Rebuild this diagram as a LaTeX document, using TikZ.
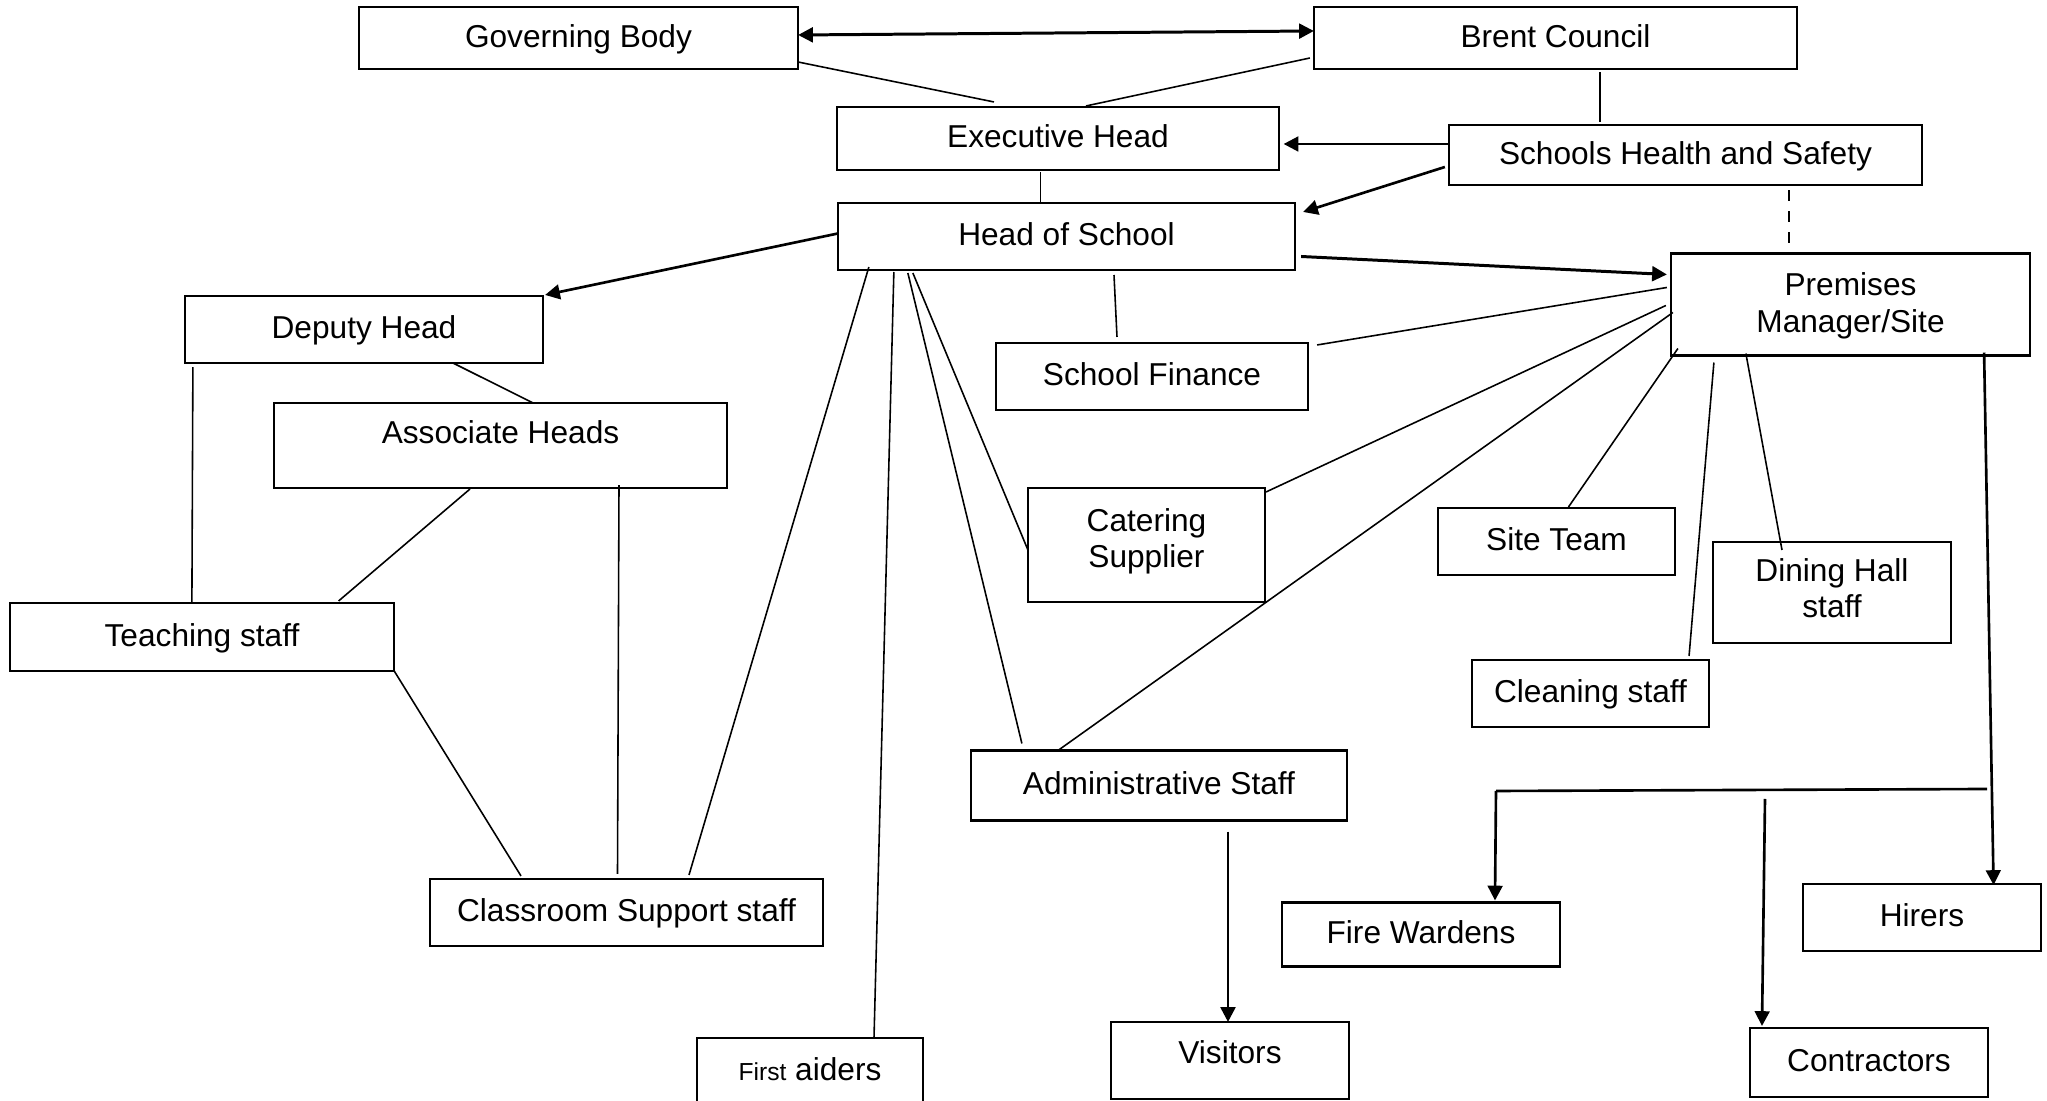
\documentclass[tikz,border=0pt]{standalone}
\usepackage{fontspec}
\setmainfont{Liberation Sans}
\usetikzlibrary{arrows.meta}

\begin{document}
\begin{tikzpicture}[x=0.01cm,y=-0.01cm,
  box/.style={draw,line width=0.6pt,inner sep=0pt,outer sep=0pt,align=center,text depth=0.04cm,
    font=\fontsize{9}{10.4}\selectfont},
  link/.style={line width=0.45pt},
  arrowlink/.style={line width=0.75pt,-{Triangle[length=4.2pt,width=4.2pt]}}]
  \useasboundingbox (0,0) rectangle (2047,1101);

  % Governance
  \node[box,minimum width=4.39cm,minimum height=0.62cm] (gov) at (578.5,38) {Governing Body};
  \node[box,minimum width=4.83cm,minimum height=0.62cm] (brent) at (1555.5,38) {Brent Council};
  \node[box,minimum width=4.41cm,minimum height=0.63cm] (exec) at (1058,138.5) {Executive Head};
  \node[box,minimum width=4.73cm,minimum height=0.60cm] (shs) at (1685.5,155) {Schools Health and Safety};
  \node[box,minimum width=4.57cm,minimum height=0.67cm] (hos) at (1066.5,236.5) {Head of School};
  \node[box,minimum width=3.59cm,minimum height=1.02cm] (prem) at (1850.5,304.5) {Premises\\Manager/Site};

  % Teaching side
  \node[box,minimum width=3.58cm,minimum height=0.67cm] (dep) at (364,329.5) {Deputy Head};
  \node[box,minimum width=4.53cm,minimum height=0.85cm,text depth=0.26cm] (assoc) at (500.5,445.5) {Associate Heads};
  \node[box,minimum width=3.83cm,minimum height=0.68cm] (teach) at (202,637) {Teaching staff};
  \node[box,minimum width=3.92cm,minimum height=0.67cm] (csup) at (626.5,912.5) {Classroom Support staff};
  \node[box,minimum width=2.26cm,minimum height=0.84cm,text depth=0.22cm] (first) at (810,1080)
    {{\fontsize{7}{8}\selectfont First} aiders};

  % Support side
  \node[box,minimum width=3.12cm,minimum height=0.67cm] (fin) at (1152,376.5) {School Finance};
  \node[box,minimum width=2.37cm,minimum height=1.14cm,text depth=0.14cm] (cater) at (1146.5,545) {Catering\\Supplier};
  \node[box,minimum width=3.76cm,minimum height=0.70cm] (admin) at (1159,785.5) {Administrative Staff};
  \node[box,minimum width=2.37cm,minimum height=0.77cm,text depth=0.16cm] (visitors) at (1230,1060.5) {Visitors};

  % Site
  \node[box,minimum width=2.37cm,minimum height=0.67cm] (site) at (1556.5,541.5) {Site Team};
  \node[box,minimum width=2.37cm,minimum height=1.01cm,text depth=0.09cm] (dining) at (1832,592.5) {Dining Hall\\staff};
  \node[box,minimum width=2.37cm,minimum height=0.67cm] (clean) at (1590.5,693.5) {Cleaning staff};
  \node[box,minimum width=2.77cm,minimum height=0.64cm] (fire) at (1421,934.5) {Fire Wardens};
  \node[box,minimum width=2.37cm,minimum height=0.67cm] (hirers) at (1922,917.5) {Hirers};
  \node[box,minimum width=2.38cm,minimum height=0.69cm] (contr) at (1869,1062.5) {Contractors};

  \coordinate (fork) at (1987,789);
  \coordinate (forkw) at (1496,791);
  \coordinate (contrtop) at (1765,799);

  % links at the top
  \draw[line width=0.85pt,{Triangle[length=4.2pt,width=4.2pt]}-{Triangle[length=4.2pt,width=4.2pt]}]
    ([shift={(0,-3)}]gov.east) -- ([shift={(0,-7)}]brent.west);
  \draw[link] ([shift={(0,-7)}]gov.south east) -- ([shift={(-64,-5)}]exec.north);
  \draw[link] ([shift={(-4,-11)}]brent.south west) -- ([shift={(28,-1)}]exec.north);
  \draw[link] ([shift={(44.5,3)}]brent.south) -- ([shift={(-85.5,-3)}]shs.north);
  \draw[arrowlink] ([shift={(0,-11)}]shs.west) -- ([shift={(5,5.5)}]exec.east);
  \draw[arrowlink] ([shift={(-4,12)}]shs.west) -- ([shift={(8,9)}]hos.north east);
  \draw[link] ([shift={(-17.5,2)}]exec.south) -- ([shift={(-26,0)}]hos.north);
  \draw[link,dashed] ([shift={(103.5,5)}]shs.south) -- ([shift={(-61.5,0)}]prem.north);

  % from the head of school
  \draw[arrowlink,line width=0.85pt] ([shift={(6,20)}]hos.east) -- ([shift={(-4,-30)}]prem.west);
  \draw[arrowlink] ([shift={(0,-3)}]hos.west) -- ([shift={(2,-1)}]dep.north east);
  \draw[link] ([shift={(47.5,5)}]hos.south) -- ([shift={(-35,-6)}]fin.north);
  \draw[link] ([shift={(75,3)}]hos.south west) -- ([shift={(0,5)}]cater.west);
  \draw[link] ([shift={(70,3)}]hos.south west) -- ([shift={(51,-7)}]admin.north west);
  \draw[link] ([shift={(56,2)}]hos.south west) -- ([shift={(64,0)}]first.north);
  \draw[link] ([shift={(31,-3)}]hos.south west) -- ([shift={(62.5,-4)}]csup.north);

  % teaching lines
  \draw[link] ([shift={(8,4)}]dep.south west) -- ([shift={(181.5,1)}]teach.north west);
  \draw[link] ([shift={(89,0)}]dep.south) -- ([shift={(32.5,0)}]assoc.north);
  \draw[link] ([shift={(-30.5,1)}]assoc.south) -- ([shift={(-55,-2)}]teach.north east);
  \draw[link] ([shift={(118.5,-3)}]assoc.south) -- ([shift={(-9,-5)}]csup.north);
  \draw[link] ([shift={(0,-1)}]teach.south east) -- ([shift={(-105.5,-3)}]csup.north);

  % into the premises manager
  \draw[link] ([shift={(9,2)}]fin.north east) -- ([shift={(-4,-17)}]prem.west);
  \draw[link] ([shift={(1,4)}]cater.north east) -- ([shift={(-5,1)}]prem.west);
  \draw[link] ([shift={(-101,0)}]admin.north) -- ([shift={(2,8)}]prem.west);
  \draw[link] ([shift={(7,-7)}]prem.south west) -- ([shift={(12,-1)}]site.north);
  \draw[link] ([shift={(43,7)}]prem.south west) -- ([shift={(-20,-4)}]clean.north east);
  \draw[link] ([shift={(75,-2)}]prem.south west) -- ([shift={(-50,8)}]dining.north);

  % premises outwards
  \draw[arrowlink] ([shift={(-46,-3)}]prem.south east) -- ([shift={(-47,1)}]hirers.north east);
  \draw[link,line width=0.75pt] (fork) -- (forkw);
  \draw[arrowlink] (forkw) -- ([shift={(74,-2)}]fire.north);
  \draw[arrowlink] (contrtop) -- ([shift={(-107,-2)}]contr.north);
  \draw[arrowlink] ([shift={(69,11)}]admin.south) -- ([shift={(-2,0)}]visitors.north);
\end{tikzpicture}
\end{document}
